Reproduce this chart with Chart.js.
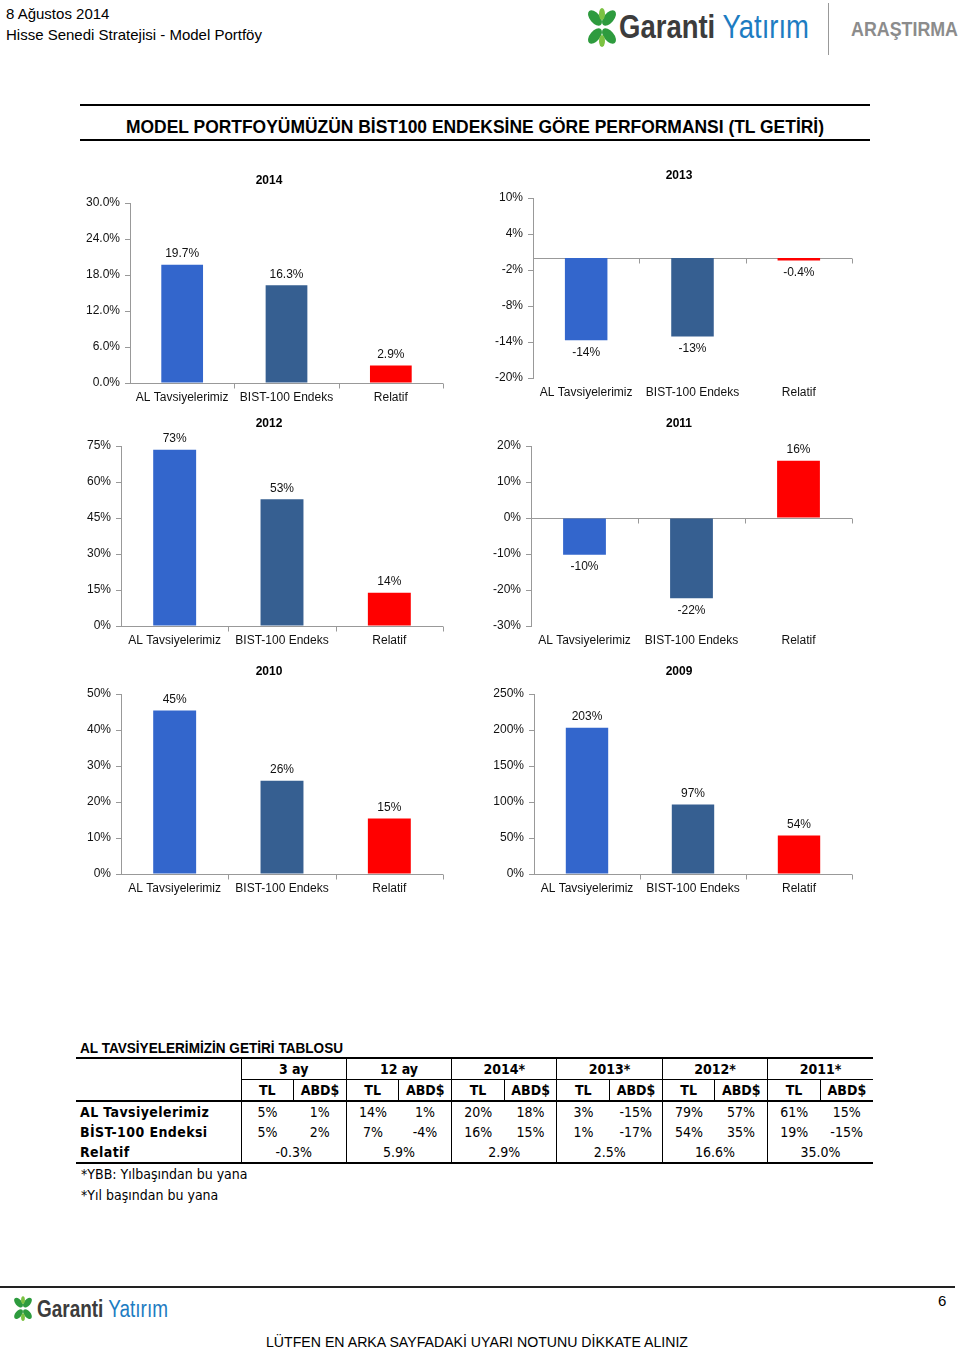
<!DOCTYPE html>
<html>
<head>
<meta charset="utf-8">
<script src="https://cdn.jsdelivr.net/npm/chart.js@4.4.1/dist/chart.umd.min.js"></script>
<style>
body { margin: 0; background: #fff; }
#page { position: relative; width: 960px; height: 1351px; overflow: hidden; font-family: "Liberation Sans", Arial, sans-serif; color: #000; }
.abs { position: absolute; }
.fit { position: absolute; white-space: nowrap; transform-origin: 0 0; display: inline-block; }
.narrow { font-family: "DejaVu Sans Condensed", "Liberation Sans", sans-serif; }
canvas.chart { position: absolute; }
#tbl { border-collapse: collapse; table-layout: fixed; width: 797px; font-size: 14px; }
#tbl td { height: 20px; padding: 0; text-align: center; white-space: nowrap; }
#tbl td.lbl { text-align: left; font-weight: bold; letter-spacing: 0.4px; padding-left: 4px; border-right: 1px solid #000; }
#tbl tr.h1 td { border-top: 2px solid #000; font-weight: bold; }
#tbl tr.h1 td.grp { border-bottom: 1px solid #000; border-left: 1px solid #000; }
#tbl tr.h2 td { border-bottom: 2px solid #000; font-weight: bold; }
#tbl td.tl { border-left: 1px solid #000; }
#tbl tr.h2 td.usd { border-left: 1px solid #000; }
#tbl tr.last td { border-bottom: 2px solid #000; }
</style>
</head>
<body>
<div id="page">
  <!-- header -->
  <div class="abs" style="left:6px;top:5px;font-size:15px;">8 Ağustos 2014</div>
  <div class="abs" style="left:6px;top:26px;font-size:15px;">Hisse Senedi Stratejisi - Model Portföy</div>

  <svg class="abs" style="left:586px;top:6px;" width="32" height="44" viewBox="0 0 32 44">
    <g fill="#2e9b3e">
      <ellipse cx="9" cy="12" rx="5" ry="9" transform="rotate(-40 9 12)"/>
      <ellipse cx="23" cy="12" rx="5" ry="9" transform="rotate(40 23 12)"/>
      <ellipse cx="9" cy="30" rx="5" ry="9" transform="rotate(40 9 30)"/>
      <ellipse cx="23" cy="30" rx="5" ry="9" transform="rotate(-40 23 30)"/>
    </g>
    <g fill="#7cc242">
      <ellipse cx="16" cy="8" rx="3" ry="6"/>
      <ellipse cx="16" cy="35" rx="3" ry="6"/>
    </g>
  </svg>
  <div id="logoTop" class="fit" style="left:619px;top:7px;font-size:33px;line-height:40px;">
    <span style="color:#3c3c3c;font-weight:bold;">Garanti</span><span style="color:#1d7cc2;"> Yatırım</span>
  </div>
  <div class="abs" style="left:828px;top:3px;width:1px;height:52px;background:#999;"></div>
  <div id="arastirma" class="fit" style="left:851px;top:17px;font-size:21px;font-weight:bold;color:#8c8c8c;">ARAŞTIRMA</div>

  <!-- title -->
  <div class="abs" style="left:80px;top:104px;width:790px;height:2px;background:#000;"></div>
  <div id="mainTitle" class="fit" style="left:126px;top:116px;font-size:19px;font-weight:bold;">MODEL PORTFOYÜMÜZÜN BİST100 ENDEKSİNE GÖRE PERFORMANSI (TL GETİRİ)</div>
  <div class="abs" style="left:80px;top:139px;width:790px;height:2px;background:#000;"></div>

  <!-- charts -->
  <canvas id="c2014" class="chart" width="380" height="260" style="left:70px;top:165px;"></canvas>
  <canvas id="c2013" class="chart" width="380" height="260" style="left:480px;top:160px;"></canvas>
  <canvas id="c2012" class="chart" width="380" height="260" style="left:70px;top:408px;"></canvas>
  <canvas id="c2011" class="chart" width="380" height="260" style="left:480px;top:408px;"></canvas>
  <canvas id="c2010" class="chart" width="380" height="260" style="left:70px;top:656px;"></canvas>
  <canvas id="c2009" class="chart" width="380" height="260" style="left:480px;top:656px;"></canvas>

  <!-- table -->
  <div id="tblTitle" class="fit" style="left:80px;top:1039px;font-size:15px;font-weight:bold;">AL TAVSİYELERİMİZİN GETİRİ TABLOSU</div>
  <table id="tbl" class="abs narrow" style="left:76px;top:1057px;"></table>
  <div class="abs narrow" style="left:81px;top:1166px;font-size:14px;">*YBB: Yılbaşından bu yana</div>
  <div class="abs narrow" style="left:81px;top:1187px;font-size:14px;">*Yıl başından bu yana</div>

  <!-- footer -->
  <div class="abs" style="left:0;top:1286px;width:955px;height:2px;background:#222;"></div>
  <svg class="abs" style="left:12px;top:1295px;" width="22" height="28" viewBox="0 0 32 44">
    <g fill="#2e9b3e">
      <ellipse cx="9" cy="12" rx="5" ry="9" transform="rotate(-40 9 12)"/>
      <ellipse cx="23" cy="12" rx="5" ry="9" transform="rotate(40 23 12)"/>
      <ellipse cx="9" cy="30" rx="5" ry="9" transform="rotate(40 9 30)"/>
      <ellipse cx="23" cy="30" rx="5" ry="9" transform="rotate(-40 23 30)"/>
    </g>
    <g fill="#7cc242">
      <ellipse cx="16" cy="8" rx="3" ry="6"/>
      <ellipse cx="16" cy="35" rx="3" ry="6"/>
    </g>
  </svg>
  <div id="logoBottom" class="fit" style="left:37px;top:1295px;font-size:23px;line-height:28px;">
    <span style="color:#3c3c3c;font-weight:bold;">Garanti</span><span style="color:#1d7cc2;"> Yatırım</span>
  </div>
  <div class="abs" style="left:938px;top:1292px;font-size:15px;">6</div>
  <div id="footNote" class="fit" style="left:266px;top:1333px;font-size:15px;">LÜTFEN EN ARKA SAYFADAKİ UYARI NOTUNU DİKKATE ALINIZ</div>
</div>

<script>
// categories and colours shared by all six charts
const categories = ['AL Tavsiyelerimiz', 'BIST-100 Endeks', 'Relatif'];
const barColors = ['#3366cc', '#365f91', '#ff0000'];

// bar values (%) per year
const values2014 = [19.7, 16.3, 2.9];
const values2013 = [-13.7, -13.1, -0.4];
const values2012 = [73.4, 52.8, 13.9];
const values2011 = [-10.2, -22.3, 15.9];
const values2010 = [45.4, 25.9, 15.4];
const values2009 = [203, 96.6, 53.6];

// y axis tick values
const ticks2014 = [0, 6, 12, 18, 24, 30];
const ticks2013 = [-20, -14, -8, -2, 4, 10];
const ticks2012 = [0, 15, 30, 45, 60, 75];
const ticks2011 = [-30, -20, -10, 0, 10, 20];
const ticks2010 = [0, 10, 20, 30, 40, 50];
const ticks2009 = [0, 50, 100, 150, 200, 250];

// decimals used on the bar labels
const digits2014 = [1, 1, 1];
const digits2013 = [0, 0, 1];
const digitsInt = [0, 0, 0];

// table data
const periods = ['3 ay', '12 ay', '2014*', '2013*', '2012*', '2011*'];
const alTL = [5, 14, 20, 3, 79, 61];
const alUSD = [1, 1, 18, -15, 57, 15];
const bistTL = [5, 7, 16, 1, 54, 19];
const bistUSD = [2, -4, 15, -17, 35, -15];
const relatif = [-0.3, 5.9, 2.9, 2.5, 16.6, 35.0];

Chart.defaults.font.family = '"Liberation Sans", Arial, sans-serif';
Chart.defaults.font.size = 12;
Chart.defaults.color = '#111';

// zero line with small marks between categories
const zeroLine = {
    id: 'zeroLine',
    beforeDatasetsDraw(chart) {
        const { ctx, chartArea, scales } = chart;
        const y = Math.round(scales.y.getPixelForValue(0)) + 0.5;
        const step = (chartArea.right - chartArea.left) / categories.length;
        ctx.save();
        ctx.strokeStyle = '#999';
        ctx.lineWidth = 1;
        ctx.beginPath();
        ctx.moveTo(chartArea.left, y);
        ctx.lineTo(chartArea.right, y);
        for (let i = 1; i <= categories.length; i++) {
            const x = Math.round(chartArea.left + i * step) + 0.5;
            ctx.moveTo(x, y);
            ctx.lineTo(x, y + 5);
        }
        ctx.stroke();
        ctx.restore();
    }
};

// value labels above / below bars
const valueLabels = {
    id: 'valueLabels',
    afterDatasetsDraw(chart, args, opts) {
        const { ctx } = chart;
        const data = chart.data.datasets[0].data;
        ctx.save();
        ctx.font = '12px "Liberation Sans", Arial, sans-serif';
        ctx.fillStyle = '#111';
        ctx.textAlign = 'center';
        ctx.textBaseline = 'middle';
        chart.getDatasetMeta(0).data.forEach((bar, i) => {
            const v = data[i];
            const txt = v.toFixed(opts.digits[i]) + '%';
            const y = v >= 0 ? bar.y - 11 : bar.y + 12;
            ctx.fillText(txt, bar.x, y);
        });
        ctx.restore();
    }
};

// year title, centred on the whole chart frame rather than the plot area
const yearTitle = {
    id: 'yearTitle',
    afterDraw(chart, args, opts) {
        const { ctx } = chart;
        ctx.save();
        ctx.font = 'bold 12px "Liberation Sans", Arial, sans-serif';
        ctx.fillStyle = '#000';
        ctx.textAlign = 'center';
        ctx.textBaseline = 'middle';
        ctx.fillText(opts.text, chart.width / 2 + 9, 16);
        ctx.restore();
    }
};

function makeChart(id, year, values, tickVals, tickDigits, labelDigits, axisX, padRight) {
    return new Chart(document.getElementById(id), {
        type: 'bar',
        data: {
            labels: categories,
            datasets: [{
                data: values,
                backgroundColor: barColors,
                borderWidth: 0,
                barPercentage: 0.4,
                categoryPercentage: 1
            }]
        },
        options: {
            responsive: false,
            animation: false,
            layout: { padding: { top: 38, right: padRight, bottom: 20 } },
            plugins: {
                legend: { display: false },
                tooltip: { enabled: false },
                title: { display: false },
                yearTitle: { text: year },
                valueLabels: { digits: labelDigits }
            },
            scales: {
                x: {
                    grid: { display: false, drawTicks: false },
                    border: { display: false },
                    ticks: { padding: 7, maxRotation: 0, autoSkip: false },
                    afterFit: s => { s.height = 22; }
                },
                y: {
                    min: tickVals[0],
                    max: tickVals[tickVals.length - 1],
                    afterBuildTicks: s => { s.ticks = tickVals.map(v => ({ value: v })); },
                    grid: { drawOnChartArea: false, drawTicks: true, tickLength: 5, color: '#999' },
                    border: { color: '#999' },
                    ticks: { padding: 5, callback: v => v.toFixed(tickDigits) + '%' },
                    afterFit: s => { s.width = axisX; }
                }
            }
        },
        plugins: [zeroLine, valueLabels, yearTitle]
    });
}

makeChart('c2014', '2014', values2014, ticks2014, 1, digits2014, 60, 7);
makeChart('c2013', '2013', values2013, ticks2013, 0, digits2013, 53, 8);
makeChart('c2012', '2012', values2012, ticks2012, 0, digitsInt, 51, 7);
makeChart('c2011', '2011', values2011, ticks2011, 0, digitsInt, 51, 8);
makeChart('c2010', '2010', values2010, ticks2010, 0, digitsInt, 51, 7);
makeChart('c2009', '2009', values2009, ticks2009, 0, digitsInt, 54, 8);

// build the returns table
function pct(v, d) { return v.toFixed(d) + '%'; }
const tbl = document.getElementById('tbl');
let html = '<colgroup><col style="width:165px">';
for (let i = 0; i < 12; i++) html += '<col style="width:52.67px">';
html += '</colgroup>';
html += '<tr class="h1"><td class="lbl"></td>' + periods.map(p => `<td class="grp" colspan="2">${p}</td>`).join('') + '</tr>';
html += '<tr class="h2"><td class="lbl"></td>' + periods.map(() => '<td class="tl">TL</td><td class="usd">ABD$</td>').join('') + '</tr>';
html += '<tr><td class="lbl">AL Tavsiyelerimiz</td>' + periods.map((p, i) => `<td class="tl">${pct(alTL[i], 0)}</td><td>${pct(alUSD[i], 0)}</td>`).join('') + '</tr>';
html += '<tr><td class="lbl">BİST-100 Endeksi</td>' + periods.map((p, i) => `<td class="tl">${pct(bistTL[i], 0)}</td><td>${pct(bistUSD[i], 0)}</td>`).join('') + '</tr>';
html += '<tr class="last"><td class="lbl">Relatif</td>' + periods.map((p, i) => `<td class="tl" colspan="2">${pct(relatif[i], 1)}</td>`).join('') + '</tr>';
tbl.innerHTML = html;

// squeeze narrow headline texts to their width in the reference
function fitWidth(id, target) {
    const el = document.getElementById(id);
    const w = el.getBoundingClientRect().width;
    el.style.transform = 'scaleX(' + (target / w) + ')';
}
fitWidth('logoTop', 190);
fitWidth('arastirma', 107);
fitWidth('mainTitle', 698);
fitWidth('tblTitle', 263);
fitWidth('logoBottom', 131);
fitWidth('footNote', 422);
</script>
</body>
</html>
